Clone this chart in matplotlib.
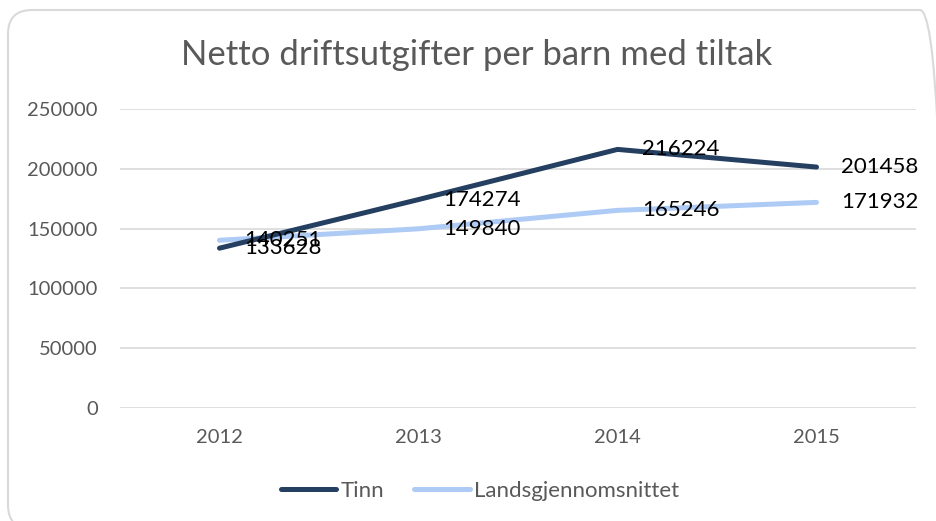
import matplotlib.pyplot as plt
from matplotlib.patches import FancyBboxPatch
from matplotlib.transforms import IdentityTransform

# -----------------------------
# Data
# -----------------------------
years = ["2012", "2013", "2014", "2015"]
tinn = [133628, 174274, 216224, 201458]
landsgj = [140251, 149840, 165246, 171932]
series_names = ["Tinn", "Landsgjennomsnittet"]
title = "Netto driftsutgifter per barn med tiltak"

plt.rcParams['font.family'] = ['Lato', 'DejaVu Sans']

W, H = 937, 521
fig = plt.figure(figsize=(W / 100, H / 100), dpi=100)

# outer rounded frame in pixel units (runs off at right and bottom)
frame = FancyBboxPatch((8, -8), 936, H - 10 + 8,
                       boxstyle="round,pad=0,rounding_size=24",
                       transform=IdentityTransform(), facecolor="none",
                       edgecolor="#D9D9D9", linewidth=1.5, zorder=-1)
fig.patches.append(frame)

ax = fig.add_axes([120 / W, 1 - 408 / H, (916 - 120) / W, (408 - 109) / H])
ax.set_facecolor("none")

x = list(range(len(years)))
ax.plot(x, tinn, color="#243F60", linewidth=3.6, solid_capstyle="round",
        label=series_names[0], zorder=3)
ax.plot(x, landsgj, color="#AECBF5", linewidth=3.6, solid_capstyle="round",
        label=series_names[1], zorder=2)

# data labels to the right of each point
for xi, v in zip(x, tinn):
    ax.annotate(str(v), (xi, v), xytext=(18, 0), textcoords="offset points",
                va="center", ha="left", fontsize=16, color="black", zorder=4)
for xi, v in zip(x, landsgj):
    ax.annotate(str(v), (xi, v), xytext=(18, 0), textcoords="offset points",
                va="center", ha="left", fontsize=16, color="black", zorder=4)

ax.set_xlim(-0.5, len(years) - 0.5)
ax.set_ylim(0, 250000)
ax.set_yticks(range(0, 250001, 50000))
ax.set_xticks(x)
ax.set_xticklabels(years)
ax.grid(axis="y", color="#D9D9D9", linewidth=1.2)
ax.set_axisbelow(True)
for s in ax.spines.values():
    s.set_visible(False)
ax.tick_params(length=0, labelsize=14.5, labelcolor="#595959")
ax.tick_params(axis="y", pad=16)
ax.tick_params(axis="x", pad=15)

fig.text(477 / W, 1 - 55 / H, title, ha="center", va="center",
         fontsize=25, color="#595959")

fig.legend(loc="center", bbox_to_anchor=(480 / W, 1 - 491 / H), ncol=2,
           frameon=False, fontsize=16, labelcolor="#595959",
           handlelength=2.5, handletextpad=0.2, columnspacing=1.35)

fig.savefig("out.png", dpi=100)
